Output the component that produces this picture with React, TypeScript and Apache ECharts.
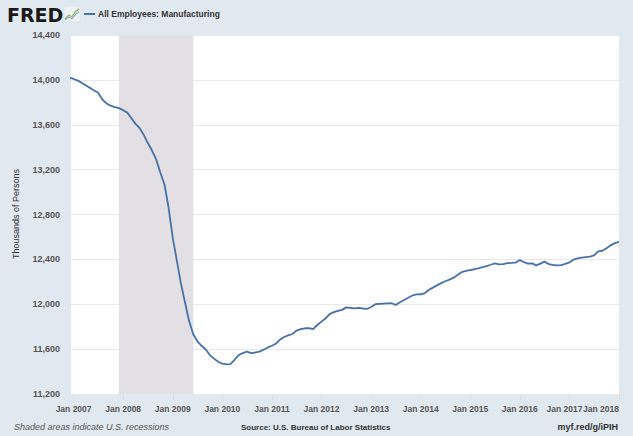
import React, { useEffect, useRef } from "react";
import * as echarts from "echarts";

const firstMonth = "2006-12-01";
const values2006 = [14020];
const values2007 = [14008, 13993, 13975, 13950, 13930, 13905, 13885, 13825, 13790, 13770, 13758, 13748];
const values2008 = [13730, 13708, 13660, 13608, 13571, 13510, 13437, 13370, 13289, 13175, 13065, 12860];
const values2009 = [12590, 12380, 12190, 12015, 11850, 11733, 11670, 11630, 11597, 11547, 11515, 11487];
const values2010 = [11470, 11464, 11466, 11505, 11547, 11565, 11577, 11565, 11570, 11578, 11595, 11615];
const values2011 = [11630, 11650, 11684, 11708, 11722, 11735, 11765, 11778, 11786, 11787, 11778, 11815];
const values2012 = [11845, 11875, 11912, 11930, 11940, 11950, 11972, 11968, 11964, 11967, 11962, 11958];
const values2013 = [11976, 12000, 12003, 12006, 12008, 12009, 11994, 12018, 12038, 12058, 12078, 12088];
const values2014 = [12089, 12100, 12127, 12148, 12168, 12188, 12205, 12220, 12237, 12262, 12287, 12297];
const values2015 = [12305, 12312, 12320, 12330, 12340, 12352, 12364, 12356, 12358, 12367, 12368, 12371];
const values2016 = [12394, 12375, 12362, 12364, 12347, 12362, 12380, 12358, 12350, 12347, 12349, 12360];
const values2017 = [12373, 12398, 12408, 12415, 12420, 12425, 12436, 12471, 12477, 12500, 12525, 12545];
const values2018 = [12556];

const monthlyValues = [
  ...values2006, ...values2007, ...values2008, ...values2009, ...values2010, ...values2011,
  ...values2012, ...values2013, ...values2014, ...values2015, ...values2016, ...values2017,
  ...values2018,
];

const yTicks = [11200, 11600, 12000, 12400, 12800, 13200, 13600, 14000, 14400];
const axisStart = "2006-12-13";
const axisEnd = "2018-01-01";
const recessionStart = "2007-12-01";
const recessionEnd = "2009-06-01";
const seriesName = "All Employees: Manufacturing";
const yAxisTitle = "Thousands of Persons";
const footLeft = "Shaded areas indicate U.S. recessions";
const footSource = "Source: U.S. Bureau of Labor Statistics";
const footLink = "myf.red/g/iPIH";

const pad = (n: number) => (n < 10 ? "0" + n : "" + n);

export default function App() {
  const ref = useRef<HTMLDivElement>(null);
  useEffect(() => {
    if (!ref.current) return;
    const chart = echarts.init(ref.current, null, { renderer: "svg" });
    const [fy, fm] = firstMonth.split("-").map(Number);
    const data: [string, number][] = monthlyValues.map((v, i) => {
      const total = fm - 1 + i;
      const y = fy + Math.floor(total / 12);
      const m = (total % 12) + 1;
      return [`${y}-${pad(m)}-01`, v];
    });
    const font = "'Liberation Sans', Arial, sans-serif";
    const year = 365 * 24 * 3600 * 1000;
    const endYear = Number(axisEnd.slice(0, 4));
    const labelStyle = {
      fontFamily: font,
      fontSize: 9,
      fontWeight: "bold",
      color: "#555555",
    };
    const xLabelStyle = { ...labelStyle, fontSize: 8.5 };
    const gridBox = { left: 71, right: 14, top: 35, bottom: 42 };
    const isJan = (val: number) => {
      const d = new Date(val);
      return d.getMonth() === 0 && d.getDate() === 1;
    };
    chart.setOption({
      animation: false,
      backgroundColor: "#e1e9f0",
      grid: [
        { ...gridBox, show: true, backgroundColor: "#ffffff", borderWidth: 0 },
        { ...gridBox, show: false },
      ],
      xAxis: [
        {
          type: "time",
          gridIndex: 0,
          min: axisStart,
          max: axisEnd,
          minInterval: year,
          maxInterval: year,
          axisLine: { show: false },
          axisTick: { show: true, length: 6, lineStyle: { color: "#d8dee4" } },
          splitLine: { show: false },
          axisLabel: {
            showMinLabel: false,
            showMaxLabel: true,
            hideOverlap: false,
            margin: 10,
            ...xLabelStyle,
            rich: {
              prev: { ...xLabelStyle, padding: [0, 10, 0, 0] },
            },
            formatter: (val: number) => {
              if (!isJan(val)) return "";
              const y = new Date(val).getFullYear();
              if (y === endYear) return "";
              if (y === endYear - 1) return `{prev|Jan ${y}}`;
              return "Jan " + y;
            },
          },
        },
        {
          type: "time",
          gridIndex: 1,
          position: "bottom",
          min: axisStart,
          max: axisEnd,
          minInterval: year,
          maxInterval: year,
          axisLine: { show: false },
          axisTick: { show: false },
          splitLine: { show: false },
          axisLabel: {
            showMinLabel: false,
            showMaxLabel: true,
            alignMaxLabel: "right",
            hideOverlap: false,
            margin: 10,
            ...xLabelStyle,
            formatter: (val: number) => {
              if (!isJan(val)) return "";
              const y = new Date(val).getFullYear();
              return y === endYear ? "Jan " + y : "";
            },
          },
        },
      ],
      yAxis: [
        {
          type: "value",
          gridIndex: 0,
          min: yTicks[0],
          max: yTicks[yTicks.length - 1],
          interval: 400,
          axisLine: { show: false },
          axisTick: { show: false },
          splitLine: { show: true, lineStyle: { color: "#e8e8e8", width: 1 } },
          axisLabel: {
            margin: 11,
            ...labelStyle,
            formatter: (v: number) => v.toLocaleString("en-US"),
          },
        },
        {
          type: "value",
          gridIndex: 1,
          min: yTicks[0],
          max: yTicks[yTicks.length - 1],
          show: false,
        },
      ],
      series: [
        {
          name: seriesName,
          type: "line",
          xAxisIndex: 0,
          yAxisIndex: 0,
          data,
          showSymbol: false,
          clip: true,
          lineStyle: { color: "#4572a7", width: 1.8 },
          itemStyle: { color: "#4572a7" },
          z: 3,
          markArea: {
            silent: true,
            itemStyle: { color: "#e2e0e4", opacity: 1 },
            data: [[{ xAxis: recessionStart }, { xAxis: recessionEnd }]],
          },
        },
      ],
      graphic: [
        {
          type: "text",
          left: 7,
          top: 5,
          style: {
            text: "FRED",
            font: "900 19px 'DejaVu Sans', sans-serif",
            fill: "#1a1a1a",
          },
        },
        {
          type: "rect",
          shape: { x: 64, y: 6, width: 16, height: 16 },
          style: { fill: "#eef2f5", stroke: "#d0d8e0", lineWidth: 0.5 },
        },
        {
          type: "polyline",
          shape: { points: [[65, 19], [69, 15], [72, 17], [75, 12], [79, 9]] },
          style: { stroke: "#8fb656", lineWidth: 1.2, fill: "none" },
        },
        {
          type: "polyline",
          shape: { points: [[65, 20], [69, 17], [72, 19], [76, 14], [79, 12]] },
          style: { stroke: "#6f93c3", lineWidth: 1, fill: "none" },
        },
        {
          type: "line",
          shape: { x1: 84, y1: 14, x2: 95, y2: 14 },
          style: { stroke: "#4572a7", lineWidth: 2 },
        },
        {
          type: "text",
          left: 98,
          top: 9,
          style: {
            text: seriesName,
            font: "bold 8.5px 'Liberation Sans', Arial, sans-serif",
            fill: "#333333",
          },
        },
        {
          type: "text",
          x: 16,
          y: 214,
          rotation: Math.PI / 2,
          style: {
            text: yAxisTitle,
            font: "9px 'Liberation Sans', Arial, sans-serif",
            fill: "#333333",
            align: "center",
            verticalAlign: "middle",
          },
        },
        {
          type: "text",
          left: 14,
          top: 422,
          style: {
            text: footLeft,
            font: "italic 9px 'Liberation Sans', Arial, sans-serif",
            fill: "#555555",
          },
        },
        {
          type: "text",
          left: 241,
          top: 423,
          style: {
            text: footSource,
            font: "bold 8px 'Liberation Sans', Arial, sans-serif",
            fill: "#333333",
          },
        },
        {
          type: "text",
          right: 15,
          top: 422,
          style: {
            text: footLink,
            font: "bold 9px 'Liberation Sans', Arial, sans-serif",
            fill: "#333333",
          },
        },
      ],
    });
    return () => chart.dispose();
  }, []);
  return (
    <div
      ref={ref}
      style={{ position: "fixed", left: 0, top: 0, width: 633, height: 436 }}
    />
  );
}
